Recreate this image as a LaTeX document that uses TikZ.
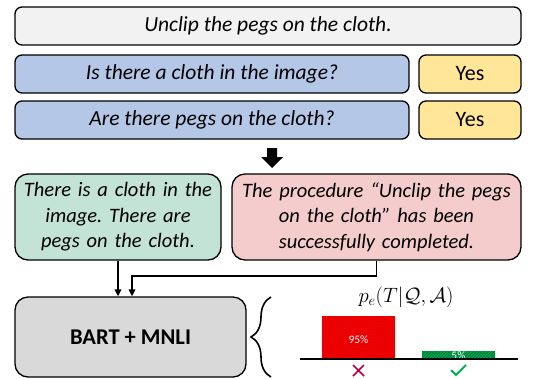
\documentclass[tikz,border=0pt]{standalone}
\usepackage{fontspec}
\setmainfont{Carlito}
\usetikzlibrary{arrows.meta,decorations.pathreplacing,patterns}
\definecolor{topfill}{HTML}{F2F2F2}
\definecolor{qfill}{HTML}{B4C7E7}
\definecolor{afill}{HTML}{FFE699}
\definecolor{gfill}{HTML}{C2E3D6}
\definecolor{pfill}{HTML}{F4CCCC}
\definecolor{bfill}{HTML}{D9D9D9}
\definecolor{barred}{HTML}{FF0000}
\definecolor{barredd}{HTML}{C80000}
\definecolor{bargreen}{HTML}{00A24A}
\definecolor{bargreend}{HTML}{00703A}
\definecolor{crosscol}{HTML}{C0003C}
\definecolor{checkcol}{HTML}{00B050}
\frenchspacing
\begin{document}
\begin{tikzpicture}[x=1pt,y=-1pt,
  box/.style={draw=black, line width=1.3pt, rounded corners=7pt, inner sep=0pt, align=center,
    font=\fontsize{21.5}{25.5}\selectfont\itshape},
  ansbox/.style={box, fill=afill, font=\fontsize{22}{25}\selectfont},
  bigbox/.style={box, rounded corners=13pt, font=\fontsize{20.5}{25.5}\selectfont\itshape},
  conn/.style={line width=1.6pt, -{Triangle[length=7pt,width=6.5pt]}},
  bar/.style={inner sep=0pt, draw=none},
  pct/.style={text=white, font=\fontsize{11.5}{12}\selectfont, inner sep=0pt}
]
\useasboundingbox (0,0) rectangle (537,378);

\node[box, fill=topfill, minimum width=506pt, minimum height=38pt] (task) at (268,26) {Unclip the pegs on the cloth.};
\node[box, fill=qfill, minimum width=394pt, minimum height=38pt] (q1) at (212,74) {Is there a cloth in the image?};
\node[ansbox, minimum width=102pt, minimum height=38pt] (a1) at (470,74) {Yes};
\node[box, fill=qfill, minimum width=394pt, minimum height=38pt] (q2) at (212,120) {Are there pegs on the cloth?};
\node[ansbox, minimum width=102pt, minimum height=38pt] (a2) at (470,120) {Yes};

\fill[black] (267,148) -- (277,148) -- (277,157) -- (283,157) -- (272,168) -- (261,157) -- (267,157) -- cycle;

\node[bigbox, fill=gfill, minimum width=206pt, minimum height=86pt, text width=204pt] (cap) at (118,217)
  {There is a cloth in the\\ image. There are\\ pegs on the cloth.};
\node[bigbox, fill=pfill, minimum width=289pt, minimum height=86pt, text width=287pt] (hyp) at (376.5,217)
  {The procedure “Unclip the pegs\\ on the cloth” has been\\ successfully completed.};

\node[box, rounded corners=13pt, fill=bfill, minimum width=231pt, minimum height=80pt, font=\fontsize{22.5}{26}\selectfont\bfseries] (bart) at (130.5,337) {BART + MNLI};

\coordinate (j) at (132,276);
\draw[conn] (cap.south) -- (cap.south |- bart.north);
\draw[conn] (hyp.south) |- (j) -- (j |- bart.north);

\draw[decorate, decoration={brace, amplitude=20pt}, line width=1.6pt] (271,377) -- (271,297);

\node[font=\fontsize{21}{24}\selectfont] (pe) at (406,297) {$p_e(T|\mathcal{Q},\mathcal{A})$};

\node[bar, fill=barred, postaction={pattern=north east lines, pattern color=barredd}, minimum width=73pt, minimum height=43pt] (rb) at (358.5,337.5) {};
\node[bar, fill=bargreen, postaction={pattern=north east lines, pattern color=bargreend}, minimum width=73pt, minimum height=8pt] (gb) at (458.5,355) {};
\node[pct] (rp) at (358.5,340) {95\%};
\node[pct] (gp) at (458.5,356) {5\%};
\draw[line width=2pt] (300,359) -- (518,359);

\draw[crosscol, line width=1.6pt] (353,365) -- (364,376) (353,376) -- (364,365);
\draw[checkcol, line width=1.8pt] (451,370) -- (456,375) -- (466,365);
\end{tikzpicture}
\end{document}
